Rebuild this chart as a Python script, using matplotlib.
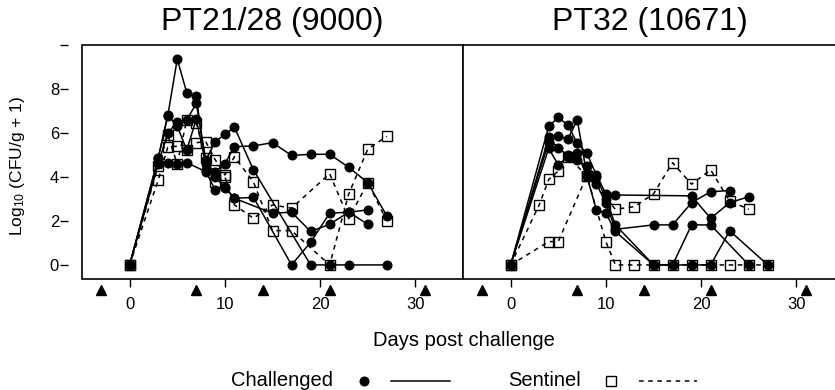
import matplotlib
matplotlib.use("Agg")
import matplotlib.pyplot as plt
import matplotlib.transforms as mtransforms
from matplotlib.patches import Rectangle
from matplotlib.lines import Line2D

plt.rcParams['font.family'] = ['Liberation Sans', 'DejaVu Sans']
plt.rcParams['mathtext.default'] = 'regular'

# --- data ---
titles = ["PT21/28 (9000)", "PT32 (10671)"]
event_days = [-3, 7, 14, 21, 31]   # filled triangles under the axis

# PT21/28, challenged animals
pt21_chal_days = [
    [0, 3, 4, 5, 6, 7, 8, 9, 10, 11, 13, 17, 19, 21, 23, 25],
    [0, 3, 4, 5, 6, 7, 8, 9, 10, 11, 13, 19, 21, 23, 27],
    [0, 3, 4, 5, 6, 7, 8, 9, 10, 11, 13, 15, 17, 19, 21, 23, 25, 27],
    [0, 3, 4, 5, 6, 8, 9, 10, 11, 15, 17, 19, 21, 23, 25],
]
pt21_chal_vals = [
    [0, 4.85, 6.77, 9.36, 7.83, 7.68, 4.32, 4.0, 3.5, 3.03, 3.07, 0, 1.03, 2.35, 2.4, 1.85],
    [0, 4.6, 5.98, 6.52, 6.59, 7.35, 4.77, 5.6, 5.94, 6.26, 4.32, 0, 0, 0, 0],
    [0, 4.85, 6.8, 6.3, 5.23, 6.62, 4.6, 4.24, 4.6, 5.38, 5.41, 5.56, 4.98, 5.03, 5.03, 4.44, 3.74, 2.23],
    [0, 4.7, 4.62, 4.59, 4.65, 4.24, 3.4, 3.56, 3.03, 2.35, 2.4, 1.52, 1.85, 2.4, 2.5],
]
# PT21/28, sentinels
pt21_sent_days = [
    [0, 3, 4, 5, 6, 7, 8, 9, 10, 11, 13, 15, 17, 21, 23, 25, 27],
    [0, 3, 4, 5, 6, 7, 8, 9, 10, 11, 13, 15, 17, 21, 23, 25, 27],
]
pt21_sent_vals = [
    [0, 3.86, 5.35, 5.4, 5.23, 5.56, 5.6, 4.77, 4.09, 4.92, 3.77, 1.56, 1.56, 0, 3.23, 5.26, 5.85],
    [0, 4.5, 5.9, 4.6, 6.6, 6.45, 4.86, 3.79, 4.0, 2.73, 2.12, 2.73, 2.58, 4.15, 2.1, 3.74, 2.0],
]

# PT32, challenged animals
pt32_chal_days = [
    [0, 4, 5, 6, 7, 8, 9, 10, 11, 19, 21, 23, 25],
    [0, 4, 5, 6, 7, 8, 9, 10, 11, 15, 17, 19, 21, 23],
    [0, 4, 5, 6, 7, 8, 9, 10, 11, 15, 17, 19, 21, 25],
    [0, 4, 5, 6, 7, 8, 9, 10, 11, 15, 17, 19, 21, 23, 27],
]
pt32_chal_vals = [
    [0, 6.3, 6.71, 6.36, 5.53, 5.08, 4.09, 3.23, 3.18, 3.14, 2.12, 2.83, 3.1],
    [0, 5.6, 5.86, 5.71, 6.59, 4.09, 3.7, 2.8, 1.62, 1.82, 1.82, 2.83, 3.33, 3.38],
    [0, 5.3, 4.55, 4.92, 5.08, 4.05, 2.5, 2.35, 1.52, 0, 0, 1.82, 1.82, 0],
    [0, 5.8, 5.3, 5.0, 4.77, 4.5, 4.0, 3.0, 1.82, 0, 0, 0, 0, 1.55, 0],
]
# PT32, sentinels
pt32_sent_days = [
    [0, 3, 4, 5, 6, 8, 10, 11, 13, 15, 17, 19, 21, 23, 25, 27],
    [0, 4, 5, 8, 11, 13, 15, 17, 19, 21, 23, 25],
]
pt32_sent_vals = [
    [0, 2.73, 3.89, 4.27, 4.92, 4.05, 1.06, 0, 0, 0, 0, 0, 0, 0, 0, 0],
    [0, 1.06, 1.06, 4.05, 2.53, 2.65, 3.23, 4.65, 3.67, 4.32, 2.91, 2.53],
]

panels = [
    (pt21_chal_days, pt21_chal_vals, pt21_sent_days, pt21_sent_vals),
    (pt32_chal_days, pt32_chal_vals, pt32_sent_days, pt32_sent_vals),
]

W, H = 835, 390
fig = plt.figure(figsize=(W / 100, H / 100), dpi=100)


def px_axes(x0, y0, x1, y1):
    return fig.add_axes([x0 / W, 1 - y1 / H, (x1 - x0) / W, (y1 - y0) / H])


axes = [px_axes(82, 45, 463, 279), px_axes(463, 45, 844, 279)]
title_x = [272, 650]

for i, ax in enumerate(axes):
    chal_d, chal_v, sent_d, sent_v = panels[i]
    for d, v in zip(sent_d, sent_v):
        ax.plot(d, v, color='black', lw=1.1, linestyle=(0, (3, 3)),
                marker='s', ms=6.5, mfc='none', mec='black', mew=1.0, zorder=2)
    for d, v in zip(chal_d, chal_v):
        ax.plot(d, v, color='black', lw=1.1, marker='o', ms=6.2, zorder=3)

    ax.set_xlim(-5, 35)
    ax.set_ylim(-0.64, 10)
    for s in ax.spines.values():
        s.set_visible(False)
    ax.add_patch(Rectangle((0, 0), 1, 1, transform=ax.transAxes, fill=False,
                           lw=1.2, ec='black', clip_on=False, zorder=5))

    # triangles below the frame
    trans = mtransforms.blended_transform_factory(ax.transData, ax.transAxes)
    ax.plot(event_days, [-0.047] * len(event_days), linestyle='none', marker='^',
            ms=7.5, color='black', transform=trans, clip_on=False)

    ax.set_xticks([0, 10, 20, 30])
    ax.tick_params(axis='x', direction='out', length=6, width=1, labelsize=12, pad=7)
    fig.text(title_x[i] / W, 1 - 22 / H, titles[i], ha='center', va='center', fontsize=23)

axes[0].spines['left'].set_position(('outward', 10))
axes[0].set_yticks([0, 2, 4, 6, 8, 10])
axes[0].set_yticklabels(['0', '2', '4', '6', '8', ''])
axes[0].tick_params(axis='y', direction='out', length=6, width=1, labelsize=12, pad=0.5)
axes[1].set_yticks([])

fig.text(18 / W, 1 - 166 / H, 'Log$_{10}$ (CFU/g + 1)', rotation=90,
         ha='center', va='center', fontsize=12.5)
fig.text(464 / W, 1 - 341 / H, 'Days post challenge', ha='center', va='center', fontsize=14.5)

# legend row, drawn by hand
ly = 1 - 381 / H
fig.text(333 / W, ly, 'Challenged', ha='right', va='center', fontsize=14.5)
fig.add_artist(Line2D([364 / W], [ly], marker='o', ms=6.2, color='black',
                      transform=fig.transFigure))
fig.add_artist(Line2D([391 / W, 450 / W], [ly, ly], lw=1.1, color='black',
                      transform=fig.transFigure))
fig.text(508 / W, ly, 'Sentinel', ha='left', va='center', fontsize=14.5)
fig.add_artist(Line2D([611 / W], [ly], marker='s', ms=6.5, mfc='none', mec='black',
                      mew=1.0, transform=fig.transFigure))
fig.add_artist(Line2D([639 / W, 697 / W], [ly, ly], lw=1.1, color='black',
                      linestyle=(0, (3, 3)), transform=fig.transFigure))

fig.savefig('out.png', dpi=100)
